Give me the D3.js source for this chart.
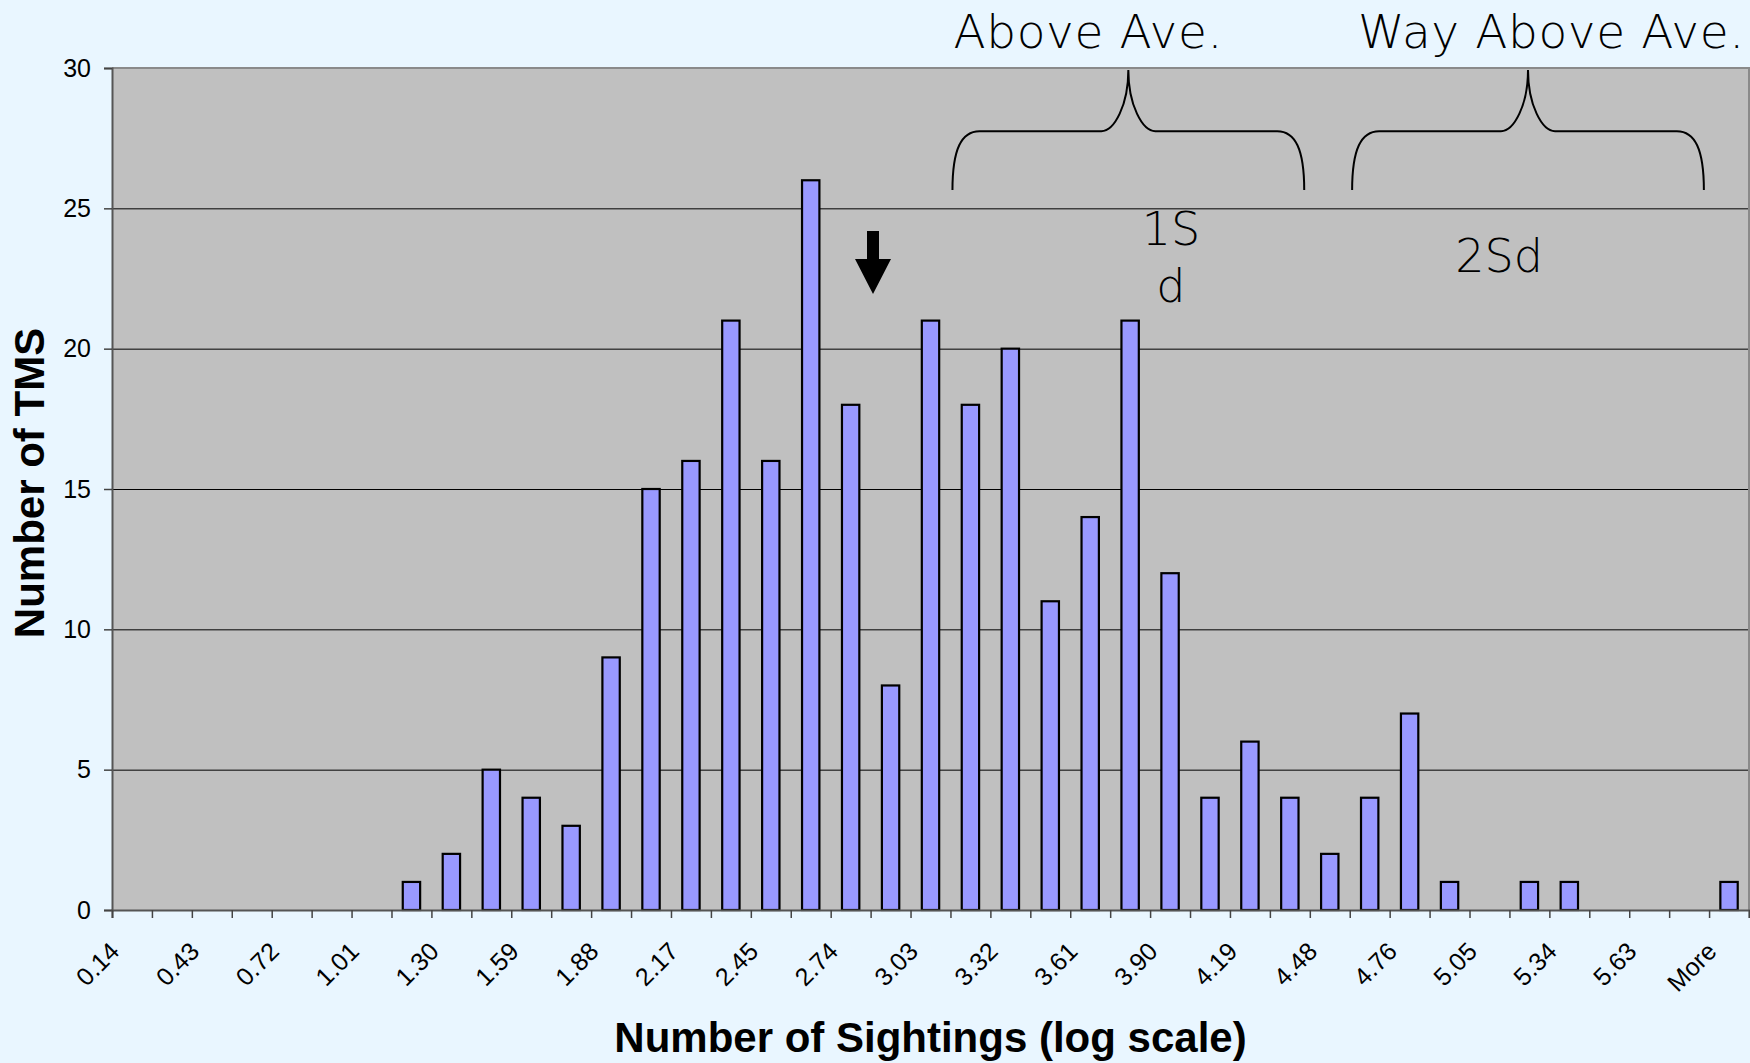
<!DOCTYPE html>
<html>
<head>
<meta charset="utf-8">
<script src="https://cdn.jsdelivr.net/npm/d3@7"></script>
<style>
  body { margin: 0; background: #e9f6ff; }
  svg { display: block; }
  .tick text { font-family: "Liberation Sans", Arial, sans-serif; }
  .note { font-family: "DejaVu Sans", sans-serif; font-weight: 200; fill: #000; }
</style>
</head>
<body>
<div id="chart"></div>
<script>
// histogram bins (log of number of sightings), last one is the overflow bin
var bins = ["0.14","0.29","0.43","0.58","0.72","0.87","1.01","1.16","1.30","1.45",
            "1.59","1.74","1.88","2.03","2.17","2.31","2.45","2.60","2.74","2.89",
            "3.03","3.18","3.32","3.47","3.61","3.76","3.90","4.05","4.19","4.34",
            "4.48","4.62","4.76","4.91","5.05","5.20","5.34","5.49","5.63","5.78","More"];

// number of TMS in each bin
var counts = [0,0,0,0,0,0,0,1,2,5,
              4,3,9,15,16,21,16,26,18,8,
              21,18,20,11,14,21,12,4,6,4,
              2,4,7,1,0,1,1,0,0,0,1];

var yTicks = [0,5,10,15,20,25,30];

// annotations, in bin units (x) and count units (y)
var braceFrom  = [21.05, 31.06];
var braceTo    = [29.86, 39.87];
var braceText  = ["Above Ave.", "Way Above Ave."];
var braceTextX = [24.45, 36.05];
var sdText     = ["1S", "d", "2Sd"];
var sdX        = [26.52, 26.52, 34.74];
var sdY        = [23.7, 21.67, 22.74];
var meanX      = 19.06;   // arrow marking the average

// Set the dimensions of the canvas / graph
var margin = {top: 68, right: 1, bottom: 153, left: 112},
    width = 1750 - margin.left - margin.right,
    height = 1063 - margin.top - margin.bottom;

var svg = d3.select("#chart")
    .append("svg")
        .attr("width", width + margin.left + margin.right)
        .attr("height", height + margin.top + margin.bottom)
    .append("g")
        .attr("transform", "translate(" + margin.left + "," + margin.top + ")");

var x = d3.scaleBand()
    .domain(d3.range(bins.length))
    .range([0, width])
    .paddingInner(0.565)
    .paddingOuter(0.2825);

// same x range but continuous, for tick marks and notes
var xu = d3.scaleLinear().domain([0, bins.length]).range([0, width]);

var y = d3.scaleLinear().domain([0, 30]).range([height, 0]);

// plot area
svg.append("rect")
    .attr("width", width)
    .attr("height", height)
    .style("fill", "#c0c0c0");

// grid lines
svg.append("g")
    .attr("class", "grid")
    .call(d3.axisLeft(y)
        .tickValues(yTicks.slice(1, -1))
        .tickSize(-width)
        .tickFormat(""))
    .call(function(g) { g.select(".domain").remove(); })
    .selectAll("line")
        .style("stroke", "#000")
        .style("stroke-width", 1);

// border top / right
svg.append("path")
    .attr("d", "M0," + y(30) + "H" + width + "V" + height)
    .style("fill", "none")
    .style("stroke", "#8a8a8a")
    .style("stroke-width", 2);

// bars
svg.selectAll(".bar")
    .data(counts)
    .enter().append("rect")
        .attr("class", "bar")
        .attr("x", function(d, i) { return x(i); })
        .attr("width", x.bandwidth())
        .attr("y", function(d) { return y(d); })
        .attr("height", function(d) { return height - y(d); })
        .style("fill", "#9999ff")
        .style("stroke", "#000")
        .style("stroke-width", 2.2)
        .style("display", function(d) { return d > 0 ? null : "none"; });

// Y axis
var yAxis = svg.append("g")
    .attr("class", "y axis")
    .call(d3.axisLeft(y).tickValues(yTicks).tickSize(8).tickPadding(13));
yAxis.selectAll("text").style("font-size", "25px").style("fill", "#000");
yAxis.selectAll("line").style("stroke", "#444").style("stroke-width", 1.5);
yAxis.select(".domain").style("stroke", "#555").style("stroke-width", 2);

// X axis: marks between bins
var xAxis = svg.append("g")
    .attr("class", "x axis")
    .attr("transform", "translate(0," + height + ")")
    .call(d3.axisBottom(xu).tickValues(d3.range(bins.length + 1)).tickSize(8).tickFormat(""));
xAxis.selectAll("line").style("stroke", "#444").style("stroke-width", 1.5);
xAxis.select(".domain").style("stroke", "#555").style("stroke-width", 2);

// every second bin label, turned 45 degrees
svg.selectAll(".xlab")
    .data(bins)
    .enter().append("text")
        .filter(function(d, i) { return i % 2 === 0; })
        .attr("class", "xlab")
        .attr("transform", function(d) {
            var i = bins.indexOf(d);
            return "translate(" + (x(i) + x.bandwidth() / 2 - 11) + "," + (height + 43) + ") rotate(-45)";
        })
        .style("text-anchor", "end")
        .style("font-family", "'Liberation Sans', Arial, sans-serif")
        .style("font-size", "25px")
        .text(function(d) { return d; });

// text label for the x axis
svg.append("text")
    .attr("x", width / 2)
    .attr("y", height + 142)
    .style("text-anchor", "middle")
    .style("font-family", "'Liberation Sans', Arial, sans-serif")
    .style("font-weight", "bold")
    .style("font-size", "42px")
    .text("Number of Sightings (log scale)");

// text label for the y axis
svg.append("text")
    .attr("transform", "translate(" + (44 - margin.left) + "," + (height / 2 - 6) + ") rotate(-90)")
    .style("text-anchor", "middle")
    .style("font-family", "'Liberation Sans', Arial, sans-serif")
    .style("font-weight", "bold")
    .style("font-size", "42px")
    .text("Number of TMS");

// curly braces over the high end
function bracePath(L, R, M, T, H, B) {
    return "M" + L + "," + B +
        " C" + L + "," + (H + 18) + " " + (L + 9) + "," + H + " " + (L + 27) + "," + H +
        " L" + (M - 27) + "," + H +
        " C" + (M - 14) + "," + H + " " + M + "," + (T + 35) + " " + M + "," + T +
        " C" + M + "," + (T + 35) + " " + (M + 14) + "," + H + " " + (M + 27) + "," + H +
        " L" + (R - 27) + "," + H +
        " C" + (R - 9) + "," + H + " " + R + "," + (H + 18) + " " + R + "," + B;
}

braceFrom.forEach(function(d, i) {
    var L = xu(d), R = xu(braceTo[i]);
    svg.append("path")
        .attr("d", bracePath(L, R, (L + R) / 2, y(29.93), y(27.75), y(25.65)))
        .style("fill", "none")
        .style("stroke", "#000")
        .style("stroke-width", 2);

    svg.append("text")
        .attr("class", "note")
        .attr("x", xu(braceTextX[i]))
        .attr("y", -20)
        .style("text-anchor", "middle")
        .style("font-size", "47px")
        .style("letter-spacing", "0.6px")
        .text(braceText[i]);
});

sdText.forEach(function(d, i) {
    svg.append("text")
        .attr("class", "note")
        .attr("x", xu(sdX[i]))
        .attr("y", y(sdY[i]))
        .style("text-anchor", "middle")
        .style("font-size", "46px")
        .text(d);
});

// arrow at the average
var ax = xu(meanX), tip = y(21.95);
svg.append("path")
    .attr("d", "M" + (ax - 6) + "," + (tip - 63) + "H" + (ax + 6) + "V" + (tip - 35) +
               "H" + (ax + 18) + "L" + ax + "," + tip + "L" + (ax - 18) + "," + (tip - 35) +
               "H" + (ax - 6) + "Z")
    .style("fill", "#000");
</script>
</body>
</html>
